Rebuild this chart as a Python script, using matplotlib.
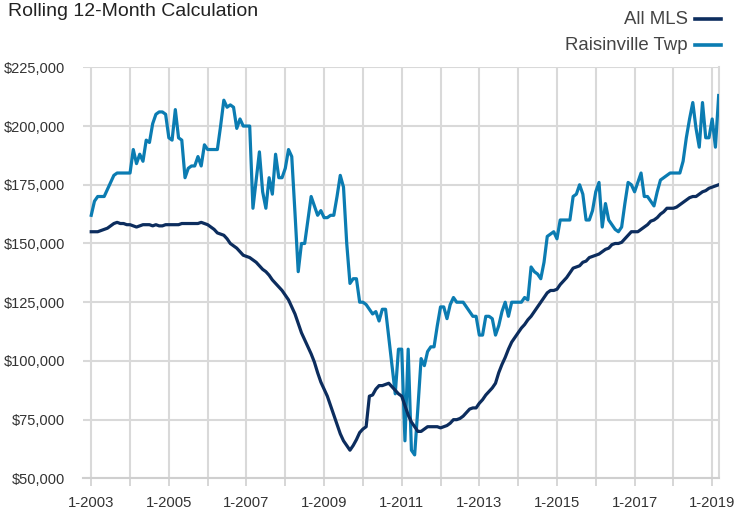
import matplotlib
matplotlib.use("Agg")
import matplotlib.pyplot as plt
from matplotlib.lines import Line2D
from matplotlib.ticker import FuncFormatter, MultipleLocator

plt.rcParams["font.family"] = ["Liberation Sans", "DejaVu Sans"]

# monthly rolling-12 median price, Jan 2003 .. Mar 2019 (values in $1000s)
all_mls = [
    155, 155, 155, 155.5, 156, 156.5, 157.5, 158.5, 159, 158.5, 158.5, 158,
    158, 157.5, 157, 157.5, 158, 158, 158, 157.5, 158, 157.5, 157.5, 158,
    158, 158, 158, 158, 158.5, 158.5, 158.5, 158.5, 158.5, 158.5, 159, 158.5,
    158, 157, 156, 154.5, 154, 153.5, 152, 150, 149, 148, 146.5, 145,
    144.5, 144, 143, 142, 140.5, 139, 138, 136.5, 134.5, 133, 131.5, 130,
    128, 126, 123, 120, 116, 112, 109, 106, 103, 99.5, 95, 91,
    88, 85, 81, 77, 73, 69, 66, 64, 62, 64, 66.5, 69.5,
    71, 72, 85, 85.5, 88, 89.5, 89.5, 90, 90.5, 89, 87.5, 86,
    85, 81, 77, 74, 72, 70, 70, 71, 72, 72, 72, 72,
    71.5, 72, 72.5, 73.5, 75, 75, 75.5, 76.5, 78, 79.5, 80, 80,
    82, 83.5, 85.5, 87, 88.5, 90.5, 95, 98.5, 101.5, 105, 108, 110,
    112, 114, 115.5, 117.5, 119, 121, 123, 125, 127, 129, 130, 130,
    130.5, 132.5, 134, 135.5, 137.5, 139.5, 140, 140.5, 142, 142.5, 144, 144.5,
    145, 145.5, 146.5, 147.5, 148, 149.5, 150, 150, 150.5, 152, 153.5, 155,
    155, 155, 156, 157, 158, 159.5, 160, 161, 162.5, 163.5, 165, 165,
    165, 165.5, 166.5, 167.5, 168.5, 169.5, 170, 170, 171, 172, 172.5, 173.5,
    174, 174.5, 175,
]
raisinville = [
    162, 168, 170, 170, 170, 173, 176, 179, 180, 180, 180, 180,
    180, 190, 184, 188, 185, 194, 193, 201, 205, 206, 206, 205,
    195, 194, 207, 195, 194, 178, 182, 183, 183, 187, 183, 192,
    190, 190, 190, 190, 200, 211, 208, 209, 208, 199, 203, 200,
    200, 200, 165, 177, 189, 172, 165, 178, 171, 188, 178, 178,
    182, 190, 187, 163, 138, 150, 150, 160, 170, 166, 162, 164,
    161, 161, 162, 162, 170, 179, 174, 150, 133, 135, 135, 125,
    125, 124, 122, 120, 121, 117, 122, 122, 110, 98, 86, 105,
    105, 66, 105, 62, 60, 80, 101, 98, 104, 106, 106, 115,
    123, 123, 118, 124, 127, 125, 125, 125, 123, 121, 119, 119,
    111, 111, 119, 119, 118, 111, 115, 121, 125, 119, 125, 125,
    125, 125, 127, 126, 140, 138, 137, 135, 142, 153, 154, 155,
    152, 160, 160, 160, 160, 170, 171, 175, 171, 160, 160, 164,
    172, 176, 157, 167, 160, 158, 156, 155, 157, 167, 176, 175,
    172, 176, 180, 170, 170, 168, 166, 172, 177, 178, 179, 180,
    180, 180, 180, 185, 195, 203, 210, 199, 191, 210, 195, 195,
    203, 191, 213,
]
assert len(all_mls) == len(raisinville) == 195
months = list(range(len(all_mls)))
year_labels = [f"1-{y}" for y in range(2003, 2020)]

NAVY = "#0c2d5e"
BLUE = "#0b7cb2"
GRID = "#d9d9d9"
TXT = "#333333"

fig = plt.figure(figsize=(7.38, 5.15), dpi=100)
ax = fig.add_axes([0.1131, 0.0711, 0.9738 - 0.1131, 0.8693 - 0.0711])

ax.plot(months, [v * 1000 for v in raisinville], color=BLUE, lw=2.3, solid_joinstyle="round", zorder=3)
ax.plot(months, [v * 1000 for v in all_mls], color=NAVY, lw=2.3, solid_joinstyle="round", zorder=4)

ax.set_xlim(-2.4, 194)
ax.set_ylim(50000, 225000)
ax.yaxis.set_major_locator(MultipleLocator(25000))
ax.yaxis.set_major_formatter(FuncFormatter(lambda v, p: f"${v:,.0f}"))
ax.set_xticks(range(0, 193, 24))
ax.set_xticklabels(year_labels[::2])
ax.set_xticks(range(0, 193, 12), minor=True)

ax.grid(True, which="major", axis="y", color=GRID, lw=1.5)
ax.grid(True, which="both", axis="x", color=GRID, lw=1.5)
ax.set_axisbelow(True)
for s in ["left", "top"]:
    ax.spines[s].set_visible(False)
ax.spines["right"].set_color(GRID)
ax.spines["right"].set_linewidth(1.5)
ax.spines["bottom"].set_color("#cfcfcf")
ax.spines["bottom"].set_linewidth(1.5)

ax.tick_params(axis="y", length=0, pad=13, labelsize=10.5, labelcolor=TXT)
ax.tick_params(axis="x", which="both", length=6, width=1.2, color="#cfcfcf",
               pad=7, labelsize=10.7, labelcolor=TXT)

fig.text(8 / 738, 1 - 3 / 515, "Rolling 12-Month Calculation", ha="left", va="top",
         fontsize=14, color="#222222")
for label, col, yp in [("All MLS", NAVY, 19), ("Raisinville Twp", BLUE, 45)]:
    yf = 1 - yp / 515
    fig.text(688 / 738, yf, label, ha="right", va="center", fontsize=13.4, color="#444444")
    fig.add_artist(Line2D([695 / 738, 721 / 738], [yf, yf], color=col, lw=2.6,
                          transform=fig.transFigure))

fig.savefig("out.png", dpi=100)
